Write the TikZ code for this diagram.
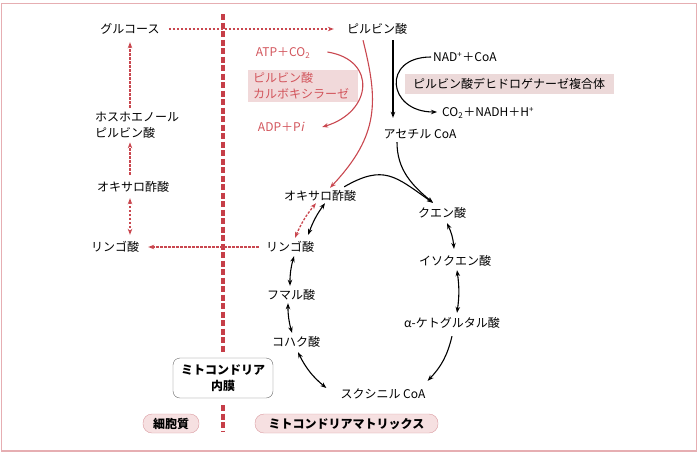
\documentclass[tikz,border=0pt]{standalone}
\usepackage{fontspec}
\setmainfont{Noto Sans CJK JP}
\newfontfamily\slantfont[FakeSlant=0.2]{Noto Sans CJK JP}
\usetikzlibrary{arrows.meta}
\definecolor{membrane}{HTML}{C63E48}
\definecolor{pathred}{HTML}{C9474F}
\definecolor{textred}{HTML}{D2555C}
\definecolor{boxpink}{HTML}{F1D9DA}
\definecolor{enzpink}{HTML}{ECD9D9}
\definecolor{pillpink}{HTML}{F6E0E1}
\definecolor{pilledge}{HTML}{DA9AA0}
\definecolor{framepink}{HTML}{E6AEB2}
\begin{document}
\begin{tikzpicture}[x=1pt,y=1pt,
	every node/.style={font=\fontsize{12}{16}\selectfont},
	>={Stealth[length=6pt,width=4.5pt]},
	lbl/.style={inner sep=2pt,text height=10.5pt,text depth=1.5pt},
	redlbl/.style={lbl,text=textred},
	pcbox/.style={fill=boxpink,text=textred,align=left,text width=100pt,inner xsep=5pt,inner ysep=2pt,minimum height=32pt},
	enzbox/.style={fill=enzpink,minimum width=209pt,minimum height=20pt,inner sep=0pt,text height=10.5pt,text depth=1.5pt},
	membox/.style={draw=black!60,fill=white,rounded corners=7pt,minimum width=100pt,minimum height=40pt,align=center,font=\fontsize{12}{16}\selectfont\bfseries},
	pill/.style={draw=pilledge,fill=pillpink,rounded corners=9pt,minimum height=19pt,inner sep=0pt,text height=10.5pt,text depth=1.5pt,font=\fontsize{12}{16}\selectfont\bfseries},
	flow/.style={->,line width=1.1pt},
	both/.style={<->,line width=1.1pt},
	redflow/.style={->,line width=1.1pt,pathred},
	reddot/.style={->,line width=1.3pt,pathred,dash pattern=on 2.5pt off 1.5pt},
	reddotboth/.style={<->,line width=1.3pt,pathred,dash pattern=on 2.5pt off 1.5pt}]
	\useasboundingbox (0,0) rectangle (700,-453);
	\draw[framepink,line width=1.5pt] (1.5,-3.5) rectangle (696.5,-451);

	\node[membox] (imm) at (223,-378) {ミトコンドリア\\内膜};
	\draw[membrane,line width=3.5pt,dash pattern=on 6pt off 2.5pt] (223,-14) -- ([yshift=5pt]imm.north);
	\draw[membrane,line width=3.5pt,dash pattern=on 6pt off 2.5pt] ([yshift=-7pt]imm.south) -- (223,-432);

	\node[lbl] (glc) at (130,-29) {グルコース};
	\node[lbl] (pyr) at (377,-29) {ピルビン酸};
	\node[redlbl] (atp) at (283,-52) {ATP＋CO\textsubscript{2}};
	\node[pcbox,anchor=north west] (pc) at (248,-70) {ピルビン酸\\カルボキシラーゼ};
	\node[redlbl] (adp) at (281,-127) {ADP＋P{\slantfont i}};
	\node[lbl,anchor=west] (nad) at (431,-57) {NAD\textsuperscript{+}＋CoA};
	\node[enzbox] (pdh) at (509,-84) {ピルビン酸デヒドロゲナーゼ複合体};
	\node[lbl,anchor=west] (co2) at (440,-112) {CO\textsubscript{2}＋NADH＋H\textsuperscript{+}};
	\node[lbl] (acoa) at (420,-134) {アセチル CoA};
	\node[lbl] (oaa) at (320,-196) {オキサロ酢酸};
	\node[lbl] (cit) at (442,-213) {クエン酸};
	\node[lbl] (icit) at (455,-261) {イソクエン酸};
	\node[lbl] (akg) at (452,-323) {α-ケトグルタル酸};
	\node[lbl] (scoa) at (383,-394) {スクシニル CoA};
	\node[lbl] (succ) at (296,-342) {コハク酸};
	\node[lbl] (fum) at (291,-295) {フマル酸};
	\node[lbl] (mal) at (290,-247) {リンゴ酸};
	\node[lbl] (malc) at (115,-247) {リンゴ酸};
	\node[lbl] (oaac) at (133,-187) {オキサロ酢酸};
	\node[align=left,anchor=west,inner sep=2pt] (pep) at (93,-125) {ホスホエノール\\ピルビン酸};
	\node[pill,minimum width=56pt] (cyto) at (171,-423.5) {細胞質};
	\node[pill,minimum width=183pt] (matrix) at (346.5,-423.5) {ミトコンドリアマトリックス};

	\draw[reddot] ([xshift=7pt]glc.east) -- ([xshift=-11pt]pyr.west);
	\draw[redflow] ([xshift=15pt]atp.east) .. controls +(50,-8) and +(50,15) .. ([xshift=16pt]adp.east);
	\draw[redflow] ([xshift=-14pt,yshift=-3pt]pyr.south) .. controls +(15,-60) and +(50,53) .. ([xshift=10pt]oaa.north);
	\draw[flow] ([xshift=16pt,yshift=-3pt]pyr.south) -- ([xshift=-27pt,yshift=8pt]acoa.north);
	\draw[flow] (nad.west) to[out=180,in=180,looseness=2.3] ([xshift=-3pt]co2.west);
	\draw[flow] ([xshift=-23pt]acoa.south) to[out=-90,in=140] ([xshift=-9pt,yshift=2pt]cit.north);
	\draw[flow] ([xshift=-14pt,yshift=1pt]oaa.north east) to[out=30,in=145,looseness=1.3] ([xshift=-9pt,yshift=2pt]cit.north);
	\draw[both] ([xshift=5pt,yshift=-2pt]cit.south) to[bend left=10] ([xshift=-1pt,yshift=4pt]icit.north);
	\draw[both] ([xshift=2pt,yshift=-1pt]icit.south) to[bend left=8] ([xshift=5pt,yshift=2pt]akg.north);
	\draw[flow] ([yshift=-5pt]akg.south) to[bend left=15] ([yshift=5pt]scoa.north east);
	\draw[both] ([xshift=-12pt,yshift=6pt]scoa.west) to[bend left=12] ([xshift=2pt,yshift=-2pt]succ.south);
	\draw[both] ([xshift=-4pt,yshift=1pt]succ.north) to[bend left=8] ([xshift=-3pt]fum.south);
	\draw[both] ([xshift=-1pt,yshift=1pt]fum.north) to[bend left=8] ([xshift=4pt,yshift=-1pt]mal.south);
	\draw[both] ([xshift=-8pt,yshift=4pt]mal.north east) to[bend left=8] ([xshift=5pt,yshift=1pt]oaa.south);
	\draw[reddotboth] ([xshift=5pt,yshift=1pt]mal.north) to[bend left=8] ([xshift=-4pt,yshift=1pt]oaa.south);
	\draw[reddot] ([xshift=-5pt]mal.west) -- ([xshift=7pt]malc.east);
	\draw[reddotboth] ([yshift=-3pt]oaac.south -| glc) -- ([yshift=4pt]malc.north -| glc);
	\draw[reddot] ([yshift=4pt]oaac.north -| glc) -- ([yshift=-2pt]pep.south -| glc);
	\draw[reddot] ([yshift=2pt]pep.north -| glc) -- ([yshift=-5pt]glc.south);
\end{tikzpicture}
\end{document}
